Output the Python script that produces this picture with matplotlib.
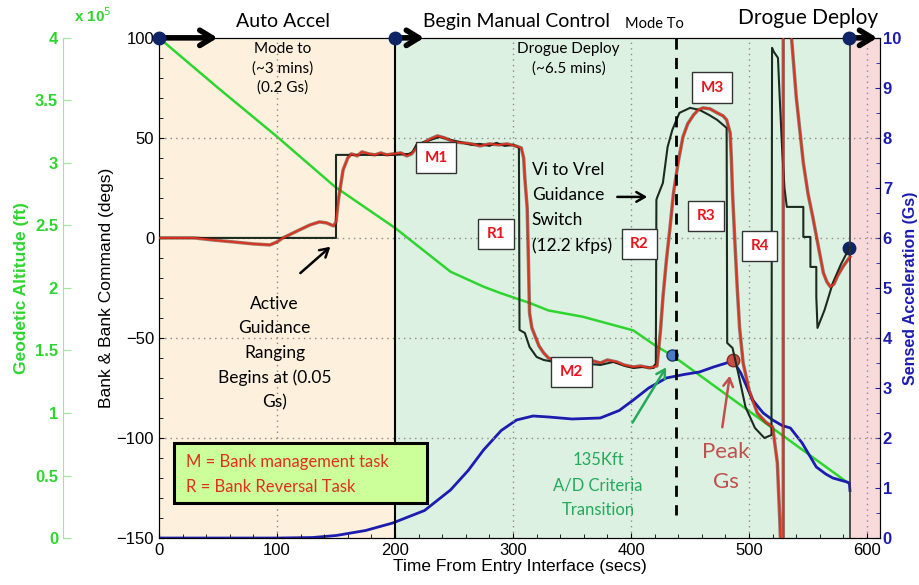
import matplotlib
matplotlib.use("Agg")
import matplotlib.pyplot as plt
from matplotlib.patches import Rectangle
from matplotlib.ticker import MultipleLocator, FixedLocator, FixedFormatter

plt.rcParams['font.family'] = ['Liberation Sans', 'DejaVu Sans']

# bank command (black), degs
cmd_t = [0, 150, 150, 200, 212, 215, 218, 225, 230, 238, 247, 258, 265, 272, 280, 286, 293, 300, 304, 305,
         305.5, 310, 314, 320, 326, 335, 345, 357, 365, 374, 385, 395, 402, 410, 419, 420, 421,
         421.5, 422, 427, 431, 435, 441, 450, 458, 466, 473, 481,
         481.5, 486, 491, 497, 505, 513, 519,
         519.5, 521, 524.5, 526, 528, 530, 532, 546, 546, 552, 552, 557, 557, 558, 564, 571, 578, 585.5]
cmd_bank = [0, 0, 41.5, 41.5, 42, 43, 46.5, 48, 49, 50.5, 49, 47.5, 46.5, 47, 46, 47.5, 46, 46.5, 45.5, 45,
            -46, -47.5, -54.5, -59.5, -61, -62, -61.5, -61.5, -63, -63.5, -62, -64, -65, -64.5, -65, -63.5, -63,
            19, 20, 27.5, 45.5, 54, 62.5, 65, 64, 61.5, 59, 55,
            -52.5, -55, -68, -84.5, -95, -100, -98.5,
            95, 93, 90, 70, 45, 25, 15.5, 15.5, 0.5, 0.5, -14.5, -14.5, -29.5, -45, -36, -22.5, -13, -4.5]

# actual bank (red), degs
bank_t = [0, 30, 45, 63, 80, 94, 100, 105, 112, 119, 128, 136, 142, 148, 150, 152, 156, 160, 163, 168, 172,
          178, 183, 188, 193, 198, 205, 210, 214, 218, 224, 230, 236, 242, 250, 258, 265, 272, 280, 288, 295,
          302, 307, 309, 310, 312, 313, 314, 316, 319, 322, 326, 330, 334, 340, 347, 352, 357, 362, 368, 374,
          380, 388, 394, 402, 408, 416, 422, 425, 427, 430, 433, 436, 440, 444, 448, 453, 457, 461, 467, 473,
          478, 481, 484, 485, 486, 488, 490, 492, 495, 500, 507, 514, 520, 524, 526, 527.5, 529, 529, 535,
          536, 540, 546, 550, 554, 558, 563, 566, 569, 572, 575, 580, 585.5]
bank_deg = [0, 0, -1, -2, -3, -3.5, -2, 0, 2, 4, 6.5, 8, 7.5, 6, 8, 19, 34, 40, 42, 41, 43,
            42, 41.5, 42.5, 41.5, 42, 42.5, 41, 42, 45, 47.5, 49.5, 51, 50, 48, 47.5, 47, 46, 47, 46.5, 47,
            46, 45, 40, 30, 15, -10, -37.5, -45, -49.5, -54, -57.5, -60, -61, -62, -60.5, -62, -61, -62.5, -61.5, -62.5,
            -61, -62, -63.5, -64.5, -64, -65, -64, -46, -30, -11, 5, 22.5, 38, 50.5, 57, 61.5, 64, 65, 64.5, 62.5,
            61, 59, 52.5, 40, 22.5, -2, -25, -45, -62.5, -76, -87.5, -92, -94.5, -112.5, -140, -165, -165, 115, 115,
            100, 70.5, 37.5, 22, 10.5, -2, -17.5, -22, -24.5, -23, -19, -14, -9.5]

# sensed acceleration (blue), Gs
acc_t = [0, 100, 130, 150, 175, 198, 225, 247, 262, 275, 290, 303, 317, 330, 350, 374, 390, 402, 415, 430,
         445, 458, 470, 481, 486, 493, 503, 512, 520, 528, 535, 545, 557, 565, 571, 583, 585, 585.5]
acc_g = [0, 0, 0.01, 0.05, 0.15, 0.3, 0.55, 0.96, 1.35, 1.76, 2.15, 2.36, 2.44, 2.42, 2.38, 2.4, 2.55, 2.76, 3.0, 3.2,
         3.27, 3.32, 3.42, 3.5, 3.56, 3.3, 2.76, 2.5, 2.36, 2.25, 2.2, 1.9, 1.42, 1.28, 1.2, 1.12, 1.1, 0.95]

# geodetic altitude (green), ft
alt_t = [0, 50, 100, 149, 200, 247, 275, 289, 314, 330, 359, 402, 422, 435, 584]
alt_ft = [4.0e5, 3.6e5, 3.21e5, 2.81e5, 2.48e5, 2.13e5, 2.01e5, 1.96e5, 1.88e5, 1.82e5, 1.77e5, 1.66e5,
          1.53e5, 1.46e5, 0.44e5]

alt_ticks = [0, 0.5e5, 1e5, 1.5e5, 2e5, 2.5e5, 3e5, 3.5e5, 4e5]
alt_labels = ['0', '0.5', '1', '1.5', '2', '2.5', '3', '3.5', '4']

task_labels = ['M1', 'R1', 'R2', 'M2', 'M3', 'R3', 'R4']
task_t = [235, 285.6, 407, 349.6, 469, 463.6, 509]
task_bank = [40, 2, -3, -67, 75, 11, -4]

GREEN = '#2fd52f'
BLUE = '#1c1cb0'
REDLINE = '#e0301e'
BLACKLINE = '#1b2b20'

fig = plt.figure(figsize=(9.19, 5.85), dpi=100)
ax = fig.add_axes([0.173, 0.0803, 0.7846, 0.855])
ax2 = ax.twinx()
ax3 = ax.twinx()
ax.set_zorder(3)
ax.patch.set_visible(False)
ax2.set_zorder(2)
ax3.set_zorder(1)

# phase shading
ax3.axvspan(0, 200, color='#fdf0dc', lw=0)
ax3.axvspan(200, 585.5, color='#ddf1e3', lw=0)
ax3.axvspan(585.5, 620, color='#f9dadb', lw=0)

# altitude
ax3.plot(alt_t, alt_ft, color=GREEN, lw=1.8)
ax3.plot(435, 1.46e5, 'o', ms=8, mfc='#4a7cc4', mec='#1d3a70')
ax3.set_ylim(0, 4e5)
ax3.spines['right'].set_visible(False)
ax3.spines['top'].set_visible(False)
ax3.spines['bottom'].set_visible(False)
ax3.spines['left'].set_position(('axes', -0.1332))
ax3.spines['left'].set_color('#9be89b')
ax3.yaxis.set_ticks_position('left')
ax3.yaxis.set_label_position('left')
ax3.yaxis.set_major_locator(FixedLocator(alt_ticks))
ax3.yaxis.set_major_formatter(FixedFormatter(alt_labels))
ax3.tick_params(axis='y', direction='in', colors='#9be89b', labelcolor=GREEN, length=6, labelsize=12)
for lab in ax3.get_yticklabels():
    lab.set_fontweight('bold')
ax3.set_ylabel('Geodetic Altitude (ft)', color=GREEN, fontsize=12.5, fontweight='bold', labelpad=4)
ax3.text(-0.118, 1.045, r'x 10$^5$', transform=ax3.transAxes, color=GREEN, fontsize=11,
         fontweight='bold', ha='left', va='center')

# acceleration
ax2.plot(acc_t, acc_g, color=BLUE, lw=2)
ax2.plot(486, 3.56, 'o', ms=9, mfc='#c9504a', mec='#8a2a25')
ax2.plot(585, 5.8, 'o', ms=9, mfc='#0e2466', mec='#0e2466')
ax2.set_ylim(0, 10)
ax2.yaxis.set_major_locator(MultipleLocator(1))
ax2.yaxis.set_minor_locator(MultipleLocator(0.5))
ax2.tick_params(axis='y', which='both', direction='in', colors=BLUE, labelcolor=BLUE, labelsize=12, pad=2)
ax2.tick_params(axis='y', which='minor', length=3)
for lab in ax2.get_yticklabels():
    lab.set_fontweight('bold')
ax2.set_ylabel('Sensed Acceleration (Gs)', color=BLUE, fontsize=11.5, fontweight='bold', labelpad=1)

# bank angle
ax.set_xlim(0, 611)
ax.set_ylim(-150, 100)
ax.set_xticks([0, 100, 200, 300, 400, 500, 600])
ax.set_yticks([-150, -100, -50, 0, 50, 100])
ax.xaxis.set_minor_locator(MultipleLocator(20))
ax.yaxis.set_minor_locator(MultipleLocator(10))
ax.tick_params(which='both', direction='in', labelsize=12, top=False)
ax.tick_params(which='minor', length=3)
ax.set_xlabel('Time From Entry Interface (secs)', fontsize=12.5, labelpad=1)
ax.set_ylabel('Bank & Bank Command (degs)', fontsize=12.5, labelpad=2)
for x in [100, 300, 400, 500, 600]:
    ax.axvline(x, color='#8a8a8a', ls=(0, (1, 3)), lw=1, zorder=1)
for y in [-100, -50, 0, 50]:
    ax.axhline(y, color='#8a8a8a', ls=(0, (1, 3)), lw=1, zorder=1)
ax.axvline(200, color='black', lw=1.5, zorder=2)
ax.axvline(585.5, color='#333333', lw=1.2, zorder=2)

ax.plot(cmd_t, cmd_bank, color=BLACKLINE, lw=1.5, zorder=3)
ax.plot(bank_t, bank_deg, color='#4a1a12', lw=2.5, zorder=4, alpha=0.55)
ax.plot(bank_t, bank_deg, color=REDLINE, lw=1.3, zorder=5)

ax.plot([438, 438], [100, -138.5], color='black', lw=2, ls=(0, (4, 3)), zorder=6)

# phase markers
for x0, x1 in [(0, 52), (200, 227), (585, 611)]:
    ax.annotate('', xy=(x1, 100), xytext=(x0, 100), annotation_clip=False, zorder=8,
                arrowprops=dict(arrowstyle='->,head_length=0.9,head_width=0.55', lw=4, color='black'))
ax.plot([0, 200, 585], [100, 100, 100], 'o', ms=9, color='#0e2466', clip_on=False, zorder=9)

afont = ['Lato', 'DejaVu Sans']
ax.text(105, 108, 'Auto Accel', ha='center', va='center', fontsize=14, family=afont)
ax.text(303, 108, 'Begin Manual Control', ha='center', va='center', fontsize=14, family=afont)
ax.text(420, 107, 'Mode To', ha='center', va='center', fontsize=10.5, family=afont)
ax.text(550, 110, 'Drogue Deploy', ha='center', va='center', fontsize=15, family=afont)
ax.text(105, 98, 'Mode to\n(~3 mins)\n(0.2 Gs)', ha='center', va='top', fontsize=11,
        family=afont, linespacing=1.45, zorder=7)
ax.text(347, 98, 'Drogue Deploy\n(~6.5 mins)', ha='center', va='top', fontsize=11,
        family=afont, linespacing=1.45, zorder=7)

ax.text(98, -29, 'Active\nGuidance\nRanging\nBegins at (0.05\nGs)', ha='center', va='top',
        fontsize=12.5, family=afont, linespacing=1.65, zorder=7)
ax.annotate('', xy=(147, -3.5), xytext=(118, -18.5), zorder=7,
            arrowprops=dict(arrowstyle='->,head_length=0.6,head_width=0.35', lw=1.8, color='black'))

ax.text(316, 38, 'Vi to Vrel\nGuidance\nSwitch\n(12.2 kfps)', ha='left', va='top',
        fontsize=12.5, family=afont, linespacing=1.7, zorder=7)
ax.annotate('', xy=(416, 20.5), xytext=(386, 20.5), zorder=7,
            arrowprops=dict(arrowstyle='->,head_length=0.6,head_width=0.35', lw=1.8, color='black'))

ax.text(372, -107, '135Kft\nA/D Criteria\nTransition', ha='center', va='top', color='#25a95a',
        fontsize=12, family=afont, linespacing=1.7, zorder=7)
ax.annotate('', xy=(431, -63.5), xytext=(400, -93.5), zorder=7,
            arrowprops=dict(arrowstyle='->,head_length=0.6,head_width=0.35', lw=1.8, color='#25a95a'))

ax.text(480, -102, 'Peak\nGs', ha='center', va='top', color='#c0504d', fontsize=16,
        family=afont, linespacing=1.6, zorder=7)
ax.annotate('', xy=(484, -67.5), xytext=(477, -96), zorder=7,
            arrowprops=dict(arrowstyle='->,head_length=0.6,head_width=0.35', lw=1.8, color='#c0504d'))

for lab, tx, by in zip(task_labels, task_t, task_bank):
    ax.text(tx, by, lab, ha='center', va='center', color='#e8141e', fontsize=11, fontweight='bold',
            family=afont, zorder=8,
            bbox=dict(boxstyle='square,pad=0.55', fc='white', ec='#333333', lw=1))

ax.add_patch(Rectangle((12.7, -132.5), 214.3, 30, fc='#ccff99', ec='black', lw=2.2, zorder=8))
ax.text(23, -112, 'M = Bank management task', ha='left', va='center', color='#e0301e',
        fontsize=12, family=afont, zorder=9)
ax.text(23, -124.5, 'R = Bank Reversal Task', ha='left', va='center', color='#e0301e',
        fontsize=12, family=afont, zorder=9)

fig.savefig('out.png', dpi=100)
